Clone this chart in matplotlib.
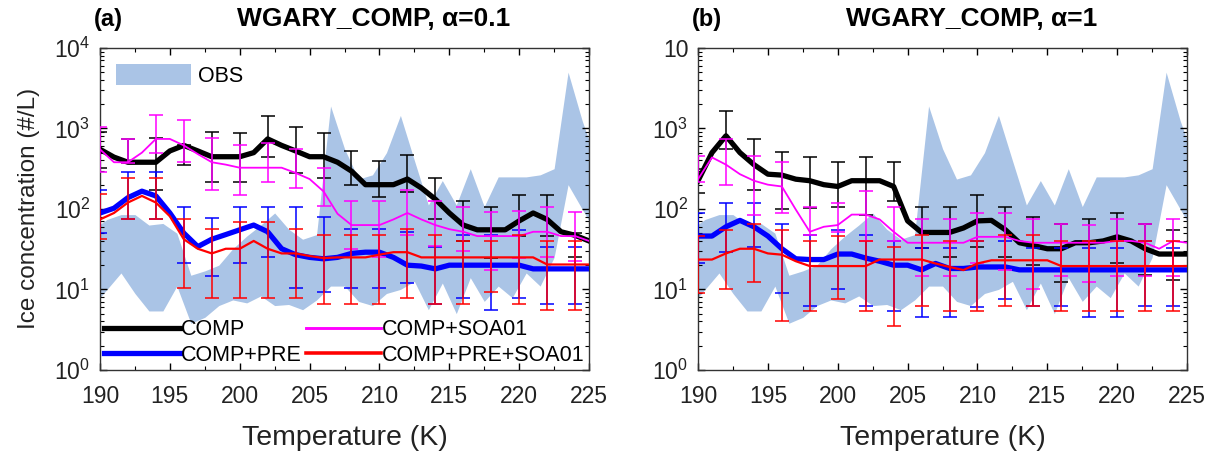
import numpy as np
import matplotlib
matplotlib.use("Agg")
import matplotlib.pyplot as plt
from matplotlib.lines import Line2D
from matplotlib.patches import Patch
from matplotlib.ticker import LogLocator, MultipleLocator, FixedLocator, FixedFormatter, NullFormatter

plt.rcParams['font.family'] = ['Liberation Sans', 'DejaVu Sans']
plt.rcParams['mathtext.fontset'] = 'custom'
plt.rcParams['mathtext.rm'] = 'Liberation Sans'
plt.rcParams['mathtext.it'] = 'Liberation Sans:italic'
plt.rcParams['mathtext.bf'] = 'Liberation Sans:bold'

# temperature grids
temps = np.arange(190, 226)
err_temps = np.arange(190, 225, 2)
obs_temps = np.arange(189.5, 226, 1.0)

# observations (same in both panels)
obs_lo = [6.3, 10, 16, 8.9, 5.4, 5.4, 11, 3.8, 4.5, 6.3, 7.4, 6.8, 8.3, 6.3, 6.5, 5.6, 7.4, 11,
          11, 7.1, 6.3, 8.9, 10, 12.6, 5.6, 12, 5, 14, 7.1, 11, 7.9, 16, 11, 25, 200, 100, 50]
obs_hi = [56, 74, 85, 85, 63, 66, 50, 15, 17, 20, 32, 46, 63, 89, 56, 42, 48, 1900,
          560, 235, 265, 500, 1450, 400, 112, 225, 112, 316, 107, 250, 250, 250, 265, 316, 5000, 1260, 400]

# ---- panel (a), alpha = 0.1 ----
comp_a = [550, 440, 380, 380, 380, 525, 615, 525, 445, 445, 445, 500, 740, 615, 525, 445, 445, 380,
          295, 200, 200, 200, 235, 182, 132, 89, 63, 55, 55, 55, 71, 89, 74, 52, 47, 40]
soa_a = [550, 380, 380, 500, 740, 740, 615, 480, 380, 355, 325, 325, 325, 325, 280, 235, 165, 87,
         63, 63, 63, 74, 89, 74, 63, 56, 52, 46, 46, 46, 46, 52, 52, 46, 46, 40]
pre_a = [89, 102, 138, 166, 145, 89, 50, 34, 42, 48, 55, 63, 52, 32, 27, 25, 24, 25,
         28, 29, 29, 25, 20, 19.5, 18, 20, 20, 20, 20, 20, 20, 18, 18, 18, 18, 18]
presoa_a = [74, 89, 120, 145, 120, 81, 42, 32, 28, 32, 32, 40, 32, 28, 28, 26, 24.5, 25,
            25, 25, 27, 29, 29, 25, 25, 25, 25, 25, 25, 25, 25, 25, 20.4, 20.4, 20.4, 20.4]

comp_a_lo = [320, 370, 173, 347, 214, 214, 447, 282, 240, 200, 141, 162, 74, 40, 24.5, 46, 46, 25]
comp_a_hi = [900, 740, 750, 620, 890, 870, 1445, 1047, 870, 525, 389, 468, 240, 126, 105, 151, 151, 50]
soa_a_lo = [288, 372, 490, 380, 174, 151, 214, 182, 110, 32, 25, 47, 35, 30, 17.4, 24.5, 25, 22.4]
soa_a_hi = [1047, 741, 1480, 1260, 760, 630, 660, 550, 324, 126, 126, 170, 126, 107, 91, 93, 107, 91]
pre_a_lo = [50, 76, 76, 21, 14.5, 21, 25, 10.5, 9.3, 10.5, 10.5, 12, 6.6, 7.8, 5.6, 7.8, 6.6, 6.6]
pre_a_hi = [174, 288, 288, 107, 78, 107, 107, 107, 80, 56, 56, 51, 34, 47, 47, 55, 34, 34]
presoa_a_lo = [42, 76, 76, 10.5, 7.8, 7.8, 7.8, 7.8, 6.5, 6.5, 6.5, 7.8, 6.6, 6.6, 9.3, 6.6, 5.6, 5.6]
presoa_a_hi = [155, 245, 240, 76, 56, 68, 68, 56, 47, 47, 47, 56, 47, 40, 40, 47, 40, 40]

# ---- panel (b), alpha = 1 ----
comp_b = [224, 500, 810, 500, 355, 270, 263, 234, 224, 200, 190, 224, 224, 224, 190, 71, 51, 51,
          51, 58, 71, 72, 55, 38, 35, 32, 32, 38, 38, 40, 45, 40, 32, 27.5, 27.5, 27.5]
soa_b = [234, 436, 355, 270, 224, 200, 190, 98, 52, 60, 63, 85, 85, 74, 52, 38, 38, 38,
         38, 38, 45, 45, 45, 40, 38, 38, 38, 38, 38, 38, 40, 40, 38, 32, 40, 38]
pre_b = [46, 46, 60, 72, 60, 46, 32, 24, 23.5, 23.5, 27.5, 27.5, 24.5, 22.4, 20, 20, 17.5, 21,
         18.2, 18.2, 19, 19, 19, 17.5, 17.5, 17.5, 17.5, 17.5, 17.5, 17.5, 17.5, 17.5, 17.5, 17.5, 17.5, 17.5]
presoa_b = [23.5, 23.5, 28, 32, 32, 28, 27, 22.4, 19.5, 19.5, 19.5, 19.5, 19.5, 23.5, 23.5, 23.5, 23.5, 21,
            19, 17.4, 21, 23, 23, 23, 23, 23, 19.5, 19.5, 19.5, 19.5, 19.5, 19.5, 19.5, 19.5, 19.5, 19.5]

comp_b_lo = [158, 550, 174, 100, 102, 107, 85, 126, 33, 25, 34, 25, 20, 12.3, 17, 21, 15, 13]
comp_b_hi = [316, 1660, 740, 513, 447, 380, 447, 380, 107, 107, 148, 107, 80, 65, 74, 89, 65, 54]
soa_b_lo = [214, 200, 85, 89, 47, 52, 40, 40, 14.8, 14.8, 21, 17.4, 10.2, 14.8, 12.3, 14.8, 14.8, 14.8]
soa_b_hi = [457, 741, 457, 380, 105, 120, 166, 105, 74, 74, 89, 89, 74, 65, 63, 74, 65, 74]
pre_b_lo = [21, 29, 34, 8.9, 6.2, 10.2, 6.2, 5.4, 4.6, 4.6, 6, 7.6, 6.3, 6.3, 4.6, 4.6, 6.3, 6.3]
pre_b_hi = [89, 120, 120, 65, 47, 54, 47, 40, 33, 33, 40, 40, 33, 33, 33, 33, 40, 33]
presoa_b_lo = [8.9, 10.2, 12.3, 4, 5.4, 7.6, 5.4, 3.5, 6.2, 5.4, 5.4, 6.2, 6.3, 5.4, 5.4, 5.4, 5.4, 5.4]
presoa_b_hi = [46, 54, 65, 54, 40, 46, 40, 34, 47, 40, 40, 47, 48, 40, 40, 40, 40, 40]

series_names = ['COMP', 'COMP+PRE', 'COMP+SOA01', 'COMP+PRE+SOA01']
series_colors = ['black', '#0000ff', '#ff00ff', '#ff0000']
series_widths = [3.8, 3.8, 1.3, 1.6]
obs_color = '#aac4e6'
text_color = '#222222'


def draw_panel(ax, lines, lows, highs):
    ax.fill_between(obs_temps, obs_lo, obs_hi, color=obs_color, lw=0, zorder=1)
    for k in range(4):
        lo = np.array(lows[k], dtype=float)
        hi = np.array(highs[k], dtype=float)
        mid = np.sqrt(lo * hi)
        ax.errorbar(err_temps, mid, yerr=[mid - lo, hi - mid], fmt='none',
                    ecolor=series_colors[k], elinewidth=1.1, capsize=5, capthick=1.1,
                    zorder=2 + 2 * k)
        ax.plot(temps, lines[k], color=series_colors[k], lw=series_widths[k],
                zorder=3 + 2 * k, solid_joinstyle='round')
    ax.set_yscale('log')
    ax.set_xlim(190, 225)
    ax.set_ylim(1, 1e4)
    ax.xaxis.set_major_locator(MultipleLocator(5))
    ax.xaxis.set_minor_locator(MultipleLocator(2.5))
    ax.yaxis.set_major_locator(LogLocator(base=10, numticks=10))
    ax.yaxis.set_minor_locator(LogLocator(base=10, subs=np.arange(2, 10), numticks=10))
    ax.yaxis.set_minor_formatter(NullFormatter())
    ax.tick_params(which='both', direction='in', top=True, right=True,
                   labelsize=16.5, labelcolor=text_color)
    ax.tick_params(axis='x', which='major', pad=11)
    ax.tick_params(axis='y', which='major', pad=7)
    ax.tick_params(which='major', length=5, width=1)
    ax.tick_params(which='minor', length=3, width=0.8)
    ax.set_xlabel('Temperature (K)', fontsize=20.5, color=text_color, labelpad=12)
    for s in ax.spines.values():
        s.set_linewidth(1.0)
        s.set_color('#333333')


fig = plt.figure(figsize=(12.15, 4.55), dpi=100)
ax_a = fig.add_axes([0.0823, 0.187, 0.4025, 0.7077])
ax_b = fig.add_axes([0.5745, 0.187, 0.4025, 0.7077])

draw_panel(ax_a, [comp_a, pre_a, soa_a, presoa_a],
           [comp_a_lo, pre_a_lo, soa_a_lo, presoa_a_lo],
           [comp_a_hi, pre_a_hi, soa_a_hi, presoa_a_hi])
draw_panel(ax_b, [comp_b, pre_b, soa_b, presoa_b],
           [comp_b_lo, pre_b_lo, soa_b_lo, presoa_b_lo],
           [comp_b_hi, pre_b_hi, soa_b_hi, presoa_b_hi])

ax_a.set_ylabel('Ice concentration (#/L)', fontsize=17.5, color=text_color, labelpad=10)

# panel b shows the top label without its exponent
ax_b.yaxis.set_major_locator(FixedLocator([1, 10, 100, 1000, 10000]))
ax_b.yaxis.set_major_formatter(FixedFormatter(['$10^0$', '$10^1$', '$10^2$', '$10^3$', '10']))

# titles sit a little right of the axes centre, panel letters at the left edge
for ax, letter, title in [(ax_a, '(a)', 'WGARY_COMP, \u03b1=0.1'), (ax_b, '(b)', 'WGARY_COMP, \u03b1=1')]:
    ax.text(0.56, 1.053, title, transform=ax.transAxes, fontsize=19, fontweight='bold',
            ha='center', va='bottom')
    ax.text(-0.012, 1.053, letter, transform=ax.transAxes, fontsize=17, fontweight='bold',
            va='bottom')

# legends in panel (a)
obs_handle = Patch(facecolor=obs_color, edgecolor='none', label='OBS')
leg1 = ax_a.legend(handles=[obs_handle], loc='upper left', frameon=False, fontsize=15.5,
                   handlelength=3.5, handleheight=1.1, borderaxespad=0.35, handletextpad=0.3)
ax_a.add_artist(leg1)
line_handles = [Line2D([], [], color=series_colors[k], lw=series_widths[k] * (1.0 if k < 2 else 1.6),
                       label=series_names[k]) for k in range(4)]
ax_a.legend(handles=line_handles, loc='lower left', ncol=2, frameon=False, fontsize=15.5,
            handlelength=3.5, handletextpad=0.05, columnspacing=0.2, borderaxespad=0.05,
            borderpad=0.15, labelspacing=0.2)

fig.savefig('out.png', dpi=100)
